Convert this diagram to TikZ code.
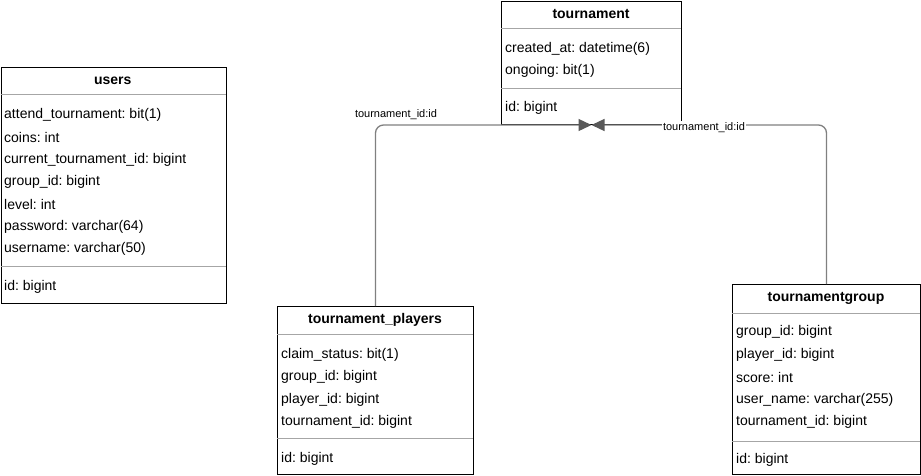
\documentclass[tikz,border=0pt]{standalone}
\usepackage{fontspec}
\setmainfont{Liberation Sans}
\usetikzlibrary{arrows.meta}
\definecolor{conncol}{HTML}{808080}
\definecolor{tipcol}{HTML}{595959}
\definecolor{sepcol}{HTML}{A6A6A6}
\frenchspacing
\begin{document}
\frenchspacing
\begin{tikzpicture}[x=1pt,y=-1pt,
  box/.style={draw=black, line width=1pt, fill=white, inner sep=0pt, anchor=north west},
  ttl/.style={font=\fontsize{14}{16}\selectfont\bfseries\frenchspacing, inner sep=0pt},
  fld/.style={font=\fontsize{14}{16}\selectfont\frenchspacing, anchor=west, inner sep=0pt, yshift=-1.5pt},
  sep/.style={draw=sepcol, line width=0.8pt},
  conn/.style={draw=conncol, line width=1.3pt, rounded corners=8pt,
    -{Triangle[length=13pt,width=12pt,fill=tipcol,color=tipcol]}},
  lbl/.style={font=\fontsize{11}{13}\selectfont\frenchspacing, inner sep=1pt}]
\useasboundingbox (0,0) rectangle (921,475);

% users
\node[box, minimum width=225pt, minimum height=236pt] (users) at (0.5,67) {};
\node[ttl] (usersT) at (112.75,80.5) {users};
\draw[sep] (0.5,94) -- (225.5,94);
\draw[sep] (0.5,266) -- (225.5,266);
\node[fld] (u1) at (4,113) {attend\_tournament: bit(1)};
\node[fld] (u2) at (4,135.5) {coins: int};
\node[fld] (u3) at (4,158) {current\_tournament\_id: bigint};
\node[fld] (u4) at (4,180.5) {group\_id: bigint};
\node[fld] (u5) at (4,203) {level: int};
\node[fld] (u6) at (4,225.5) {password: varchar(64)};
\node[fld] (u7) at (4,247.5) {username: varchar(50)};
\node[fld] (u8) at (4,285) {id: bigint};

% tournament
\node[box, minimum width=180pt, minimum height=123pt] (tour) at (501,1) {};
\node[ttl] (tourT) at (591,14) {tournament};
\draw[sep] (501,28) -- (681,28);
\draw[sep] (501,88) -- (681,88);
\node[fld] (t1) at (505,47) {created\_at: datetime(6)};
\node[fld] (t2) at (505,69.5) {ongoing: bit(1)};
\node[fld] (t3) at (505,106.5) {id: bigint};

% tournament_players
\node[box, minimum width=196pt, minimum height=168pt] (tp) at (277,306) {};
\node[ttl] (tpT) at (375,320) {tournament\_players};
\draw[sep] (277,334) -- (473,334);
\draw[sep] (277,438) -- (473,438);
\node[fld] (p1) at (281,353) {claim\_status: bit(1)};
\node[fld] (p2) at (281,375.5) {group\_id: bigint};
\node[fld] (p3) at (281,398) {player\_id: bigint};
\node[fld] (p4) at (281,420.5) {tournament\_id: bigint};
\node[fld] (p5) at (281,457) {id: bigint};

% tournamentgroup
\node[box, minimum width=188pt, minimum height=190pt] (tg) at (732,284) {};
\node[ttl] (tgT) at (826,298) {tournamentgroup};
\draw[sep] (732,313) -- (920,313);
\draw[sep] (732,441) -- (920,441);
\node[fld] (g1) at (736,330.5) {group\_id: bigint};
\node[fld] (g2) at (736,353) {player\_id: bigint};
\node[fld] (g3) at (736,375.5) {score: int};
\node[fld] (g4) at (736,398) {user\_name: varchar(255)};
\node[fld] (g5) at (736,420.5) {tournament\_id: bigint};
\node[fld] (g6) at (736,458) {id: bigint};

% connectors
\draw[conn] (tp.north) |- (tour.south);
\draw[conn] (tg.north) |- (tour.south);
\node[lbl] (l1) at (396,114.5) {tournament\_id:id};
\node[lbl, fill=white] (l2) at (704,127.5) {tournament\_id:id};
\end{tikzpicture}
\end{document}
